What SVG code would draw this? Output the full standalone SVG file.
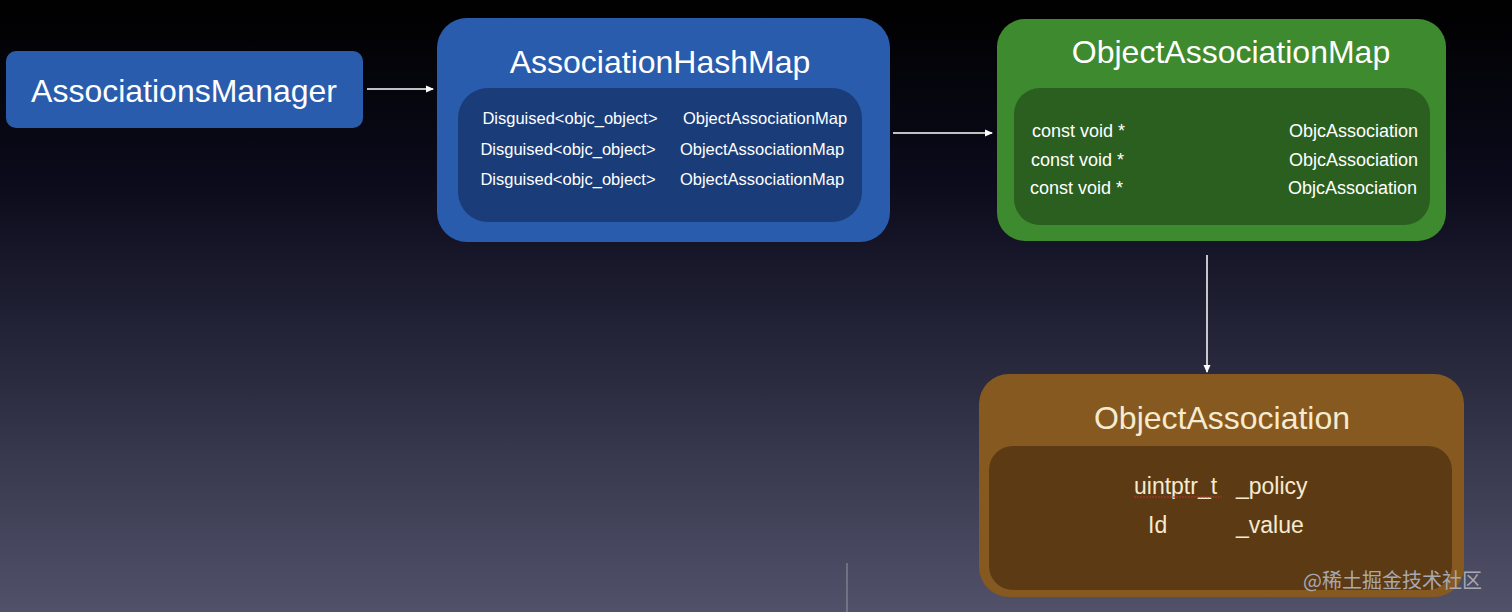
<svg xmlns="http://www.w3.org/2000/svg" width="1512" height="612" viewBox="0 0 1512 612">
<defs>
<linearGradient id="bg" x1="0" y1="0" x2="0" y2="1">
<stop offset="0" stop-color="#000000"/>
<stop offset="0.3" stop-color="#0b0b1c"/>
<stop offset="1" stop-color="#51516a"/>
</linearGradient>
<marker id="ah" markerWidth="8" markerHeight="8" refX="7" refY="4" orient="auto" markerUnits="userSpaceOnUse">
<path d="M0,0.5 L8,4 L0,7.5 Z" fill="#ffffff"/>
</marker>
</defs>
<style>
text{font-family:"Liberation Sans","Noto Sans",sans-serif;fill:#ffffff}
.t{font-size:32px;text-anchor:middle}
.r{font-size:16.5px}
.g{font-size:18px}
.o{font-size:23px;fill:#f6ead0}
.e{stroke:#ffffff;stroke-width:1.5;fill:none;marker-end:url(#ah)}
</style>
<rect width="1512" height="612" fill="url(#bg)"/>
<line x1="847" y1="563" x2="847" y2="612" stroke="#8a8a9a" stroke-width="1.2"/>
<g id="associationsManager">
<rect x="6" y="51" width="357" height="77" rx="10" fill="#2a5cae"/>
<text class="t" x="184" y="102" font-size="33">AssociationsManager</text>
</g>
<g id="associationHashMap">
<rect x="437" y="18" width="453" height="224" rx="30" fill="#2a5cae"/>
<text class="t" x="660" y="73">AssociationHashMap</text>
<rect x="458" y="88" width="404" height="134" rx="30" fill="#1a3d7a"/>
<text class="r" x="570" y="124" text-anchor="middle">Disguised&lt;objc_object&gt;</text>
<text class="r" x="765" y="124" text-anchor="middle">ObjectAssociationMap</text>
<text class="r" x="568" y="155" text-anchor="middle">Disguised&lt;objc_object&gt;</text>
<text class="r" x="762" y="155" text-anchor="middle">ObjectAssociationMap</text>
<text class="r" x="568" y="185" text-anchor="middle">Disguised&lt;objc_object&gt;</text>
<text class="r" x="762" y="185" text-anchor="middle">ObjectAssociationMap</text>
</g>
<g id="objectAssociationMap">
<rect x="997" y="19" width="449" height="222" rx="28" fill="#3e8a2e"/>
<text class="t" x="1231" y="63">ObjectAssociationMap</text>
<rect x="1014" y="88" width="416" height="137" rx="26" fill="#2b5f1f"/>
<text class="g" x="1032" y="137">const void *</text>
<text class="g" x="1418" y="137" text-anchor="end">ObjcAssociation</text>
<text class="g" x="1031" y="166">const void *</text>
<text class="g" x="1418" y="166" text-anchor="end">ObjcAssociation</text>
<text class="g" x="1030" y="194">const void *</text>
<text class="g" x="1417" y="194" text-anchor="end">ObjcAssociation</text>
</g>
<g id="objectAssociation">
<rect x="979" y="374" width="485" height="223" rx="30" fill="#85591f"/>
<text class="t" x="1222" y="429" style="fill:#f6ead0">ObjectAssociation</text>
<rect x="989" y="446" width="463" height="144" rx="24" fill="#5c3b14"/>
<text class="o" x="1134" y="494">uintptr_t</text>
<line x1="1134" y1="497" x2="1222" y2="497" stroke="#c03030" stroke-width="1" stroke-dasharray="2,1"/>
<text class="o" x="1236" y="494">_policy</text>
<text class="o" x="1148" y="533">Id</text>
<text class="o" x="1236" y="533">_value</text>
</g>
<g id="connectors">
<line class="e" x1="367" y1="89" x2="433" y2="89"/>
<line class="e" x1="893" y1="133" x2="992" y2="133"/>
<line class="e" x1="1207" y1="255" x2="1207" y2="372"/>
</g>
<text x="1303" y="588" font-size="20" style="fill:#a8a8b0;font-family:'Noto Sans CJK SC',sans-serif">@稀土掘金技术社区</text>
</svg>
